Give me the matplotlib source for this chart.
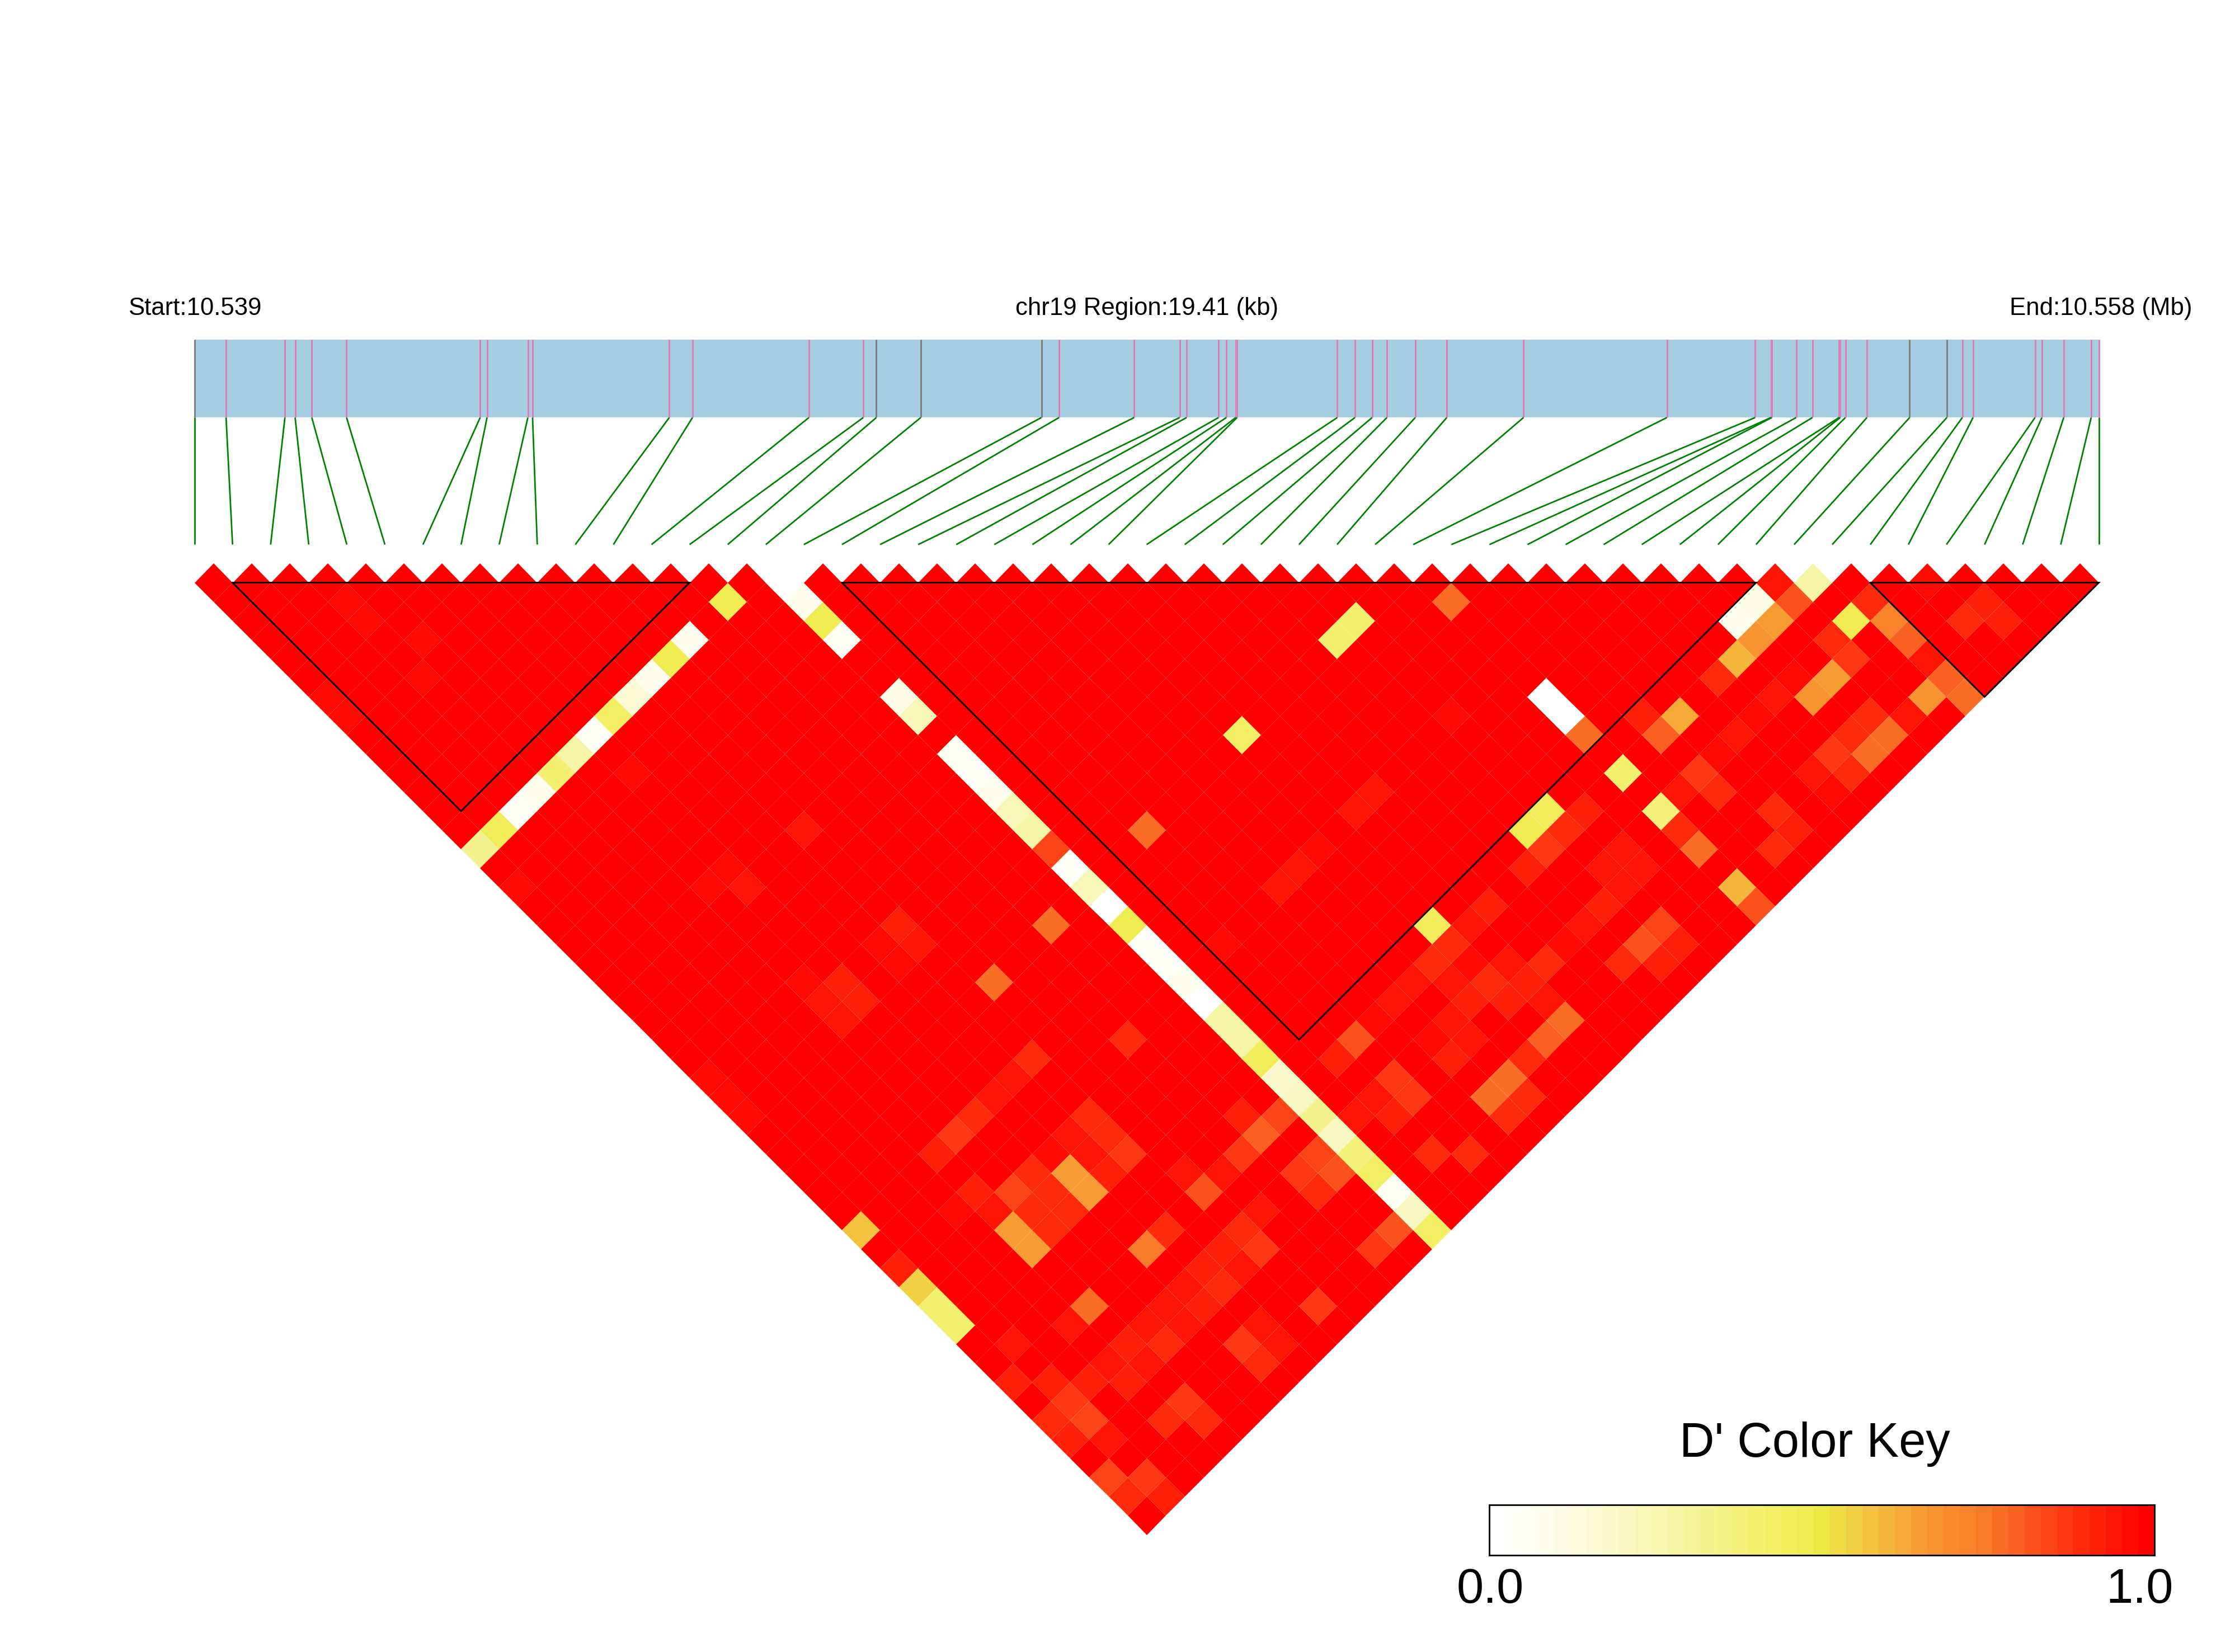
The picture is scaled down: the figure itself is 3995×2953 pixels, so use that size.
import numpy as np
import matplotlib
matplotlib.use("Agg")
import matplotlib.pyplot as plt
from matplotlib.colors import LinearSegmentedColormap
from matplotlib.transforms import Affine2D

plt.rcParams['font.family'] = ['Liberation Sans', 'DejaVu Sans']

# SNP positions on the region, kb from the start
snp_kb = [0.000, 0.322, 0.922, 1.026, 1.196, 1.550, 2.912, 2.982, 3.398, 3.446,
          4.840, 5.076, 6.263, 6.817, 6.950, 7.403, 8.633, 8.812, 9.578, 10.041,
          10.112, 10.438, 10.518, 10.613, 10.627, 11.648, 11.828, 12.003, 12.154, 12.443,
          12.764, 13.546, 15.008, 15.907, 16.068, 16.077, 16.325, 16.491, 16.762, 16.775,
          16.827, 17.046, 17.482, 17.861, 18.019, 18.128, 18.760, 18.830, 19.052, 19.332,
          19.410]
grey_snps = [0, 14, 15, 16, 42, 43]  # the rest are pink
region_kb = 19.41

# LD blocks outlined in black, as first and last SNP
block_start = [1, 17, 44]
block_end = [13, 41, 50]

# D' is 1.0 everywhere except the pairs below: pair_j[k] and pair_d[k] belong to SNP pair_i[k]
pair_i = [0, 1, 2, 3, 4, 5, 6, 7, 8, 9, 10, 11, 12, 13, 14, 15, 16, 17, 18, 19, 20, 21, 22, 23,
          24, 25, 26, 27, 28, 29, 30, 32, 33, 34, 35, 36, 37, 38, 39, 40, 41, 42, 43, 45, 46]
pair_j = [
    [7, 8, 15, 17, 27, 28, 29, 35, 37, 38, 39, 40, 43, 45, 46, 48, 49],
    [15, 42, 44, 45, 46, 47, 49, 50],
    [15, 45],
    [5, 6, 9, 15, 37, 43, 45, 46, 48],
    [8, 15, 17, 35, 37, 38, 39, 40, 43, 45, 46, 48, 49],
    [15, 17, 22, 27, 28, 29, 35, 38, 39, 40, 45, 46],
    [15, 17, 22, 23, 28, 29, 35, 38, 39, 40, 45, 46],
    [15, 35, 38, 39, 40, 43, 45, 46, 48, 49],
    [15, 23, 28, 29, 35, 38, 39, 40, 43, 45, 46, 48, 49],
    [15, 17, 22, 23, 28, 29, 35, 38, 39, 40, 45, 46],
    [15, 32, 42, 43, 45, 46, 49],
    [15, 43, 45],
    [37, 43],
    [15, 32, 42, 43, 45, 46, 49],
    [43, 45, 46, 49],
    [16, 17, 18, 19, 22, 23, 25, 26, 27, 28, 29, 30, 31, 32, 33, 34, 35, 36, 37, 38, 39, 40, 41,
     42, 43, 44, 45, 46, 47, 48, 49, 50],
    [45],
    [37, 43, 45, 46, 48],
    [32, 43, 45, 46, 49],
    [43],
    [37, 43, 45, 46, 48, 49],
    [37, 43, 45, 46, 48, 49],
    [37, 43, 44, 45, 48],
    [32, 37, 42, 43, 44, 45, 46, 48],
    [37, 43, 45, 46, 47, 48],
    [37, 43, 46],
    [46],
    [37, 43, 46, 48],
    [32, 37, 42, 43, 46, 48, 49],
    [32, 37, 42, 43, 45, 46, 47, 48, 49],
    [37, 43, 45, 46, 47],
    [34, 39, 40, 41, 43, 45, 46, 47, 49, 50],
    [45],
    [42, 43, 45, 46, 49],
    [43, 45, 48, 49],
    [45],
    [43, 45, 48, 49],
    [43, 45, 48, 49],
    [42, 43, 45, 46, 48, 49],
    [42, 43, 46, 48, 49],
    [42, 43, 45, 46, 49],
    [43, 45, 49],
    [45, 46, 47, 48, 49, 50],
    [46, 48],
    [48, 49],
]
pair_d = [
    [.97, .97, .33, .97, .97, .96, .97, .57, .92, .55, .40, .40, .92, .88, .92, .84, .89],
    [.44, .93, .92, .87, .83, .93, .86, .92],
    [.05, .92],
    [.97, .97, .97, .09, .96, .93, .94, .92, .90],
    [.97, .40, .98, .92, .92, .94, .65, .65, .77, .92, .93, .87, .90],
    [.28, .98, .96, .97, .93, .93, .86, .85, .88, .88, .93, .90],
    [.06, .97, .97, .94, .92, .92, .88, .89, .90, .88, .95, .93],
    [.42, .95, .97, .65, .65, .75, .93, .91, .86, .89],
    [.15, .98, .97, .96, .93, .94, .93, .92, .88, .92, .88, .93, .93],
    [.08, .98, .98, .94, .92, .93, .88, .88, .88, .87, .92, .93],
    [.47, .78, .95, .82, .90, .87, .87],
    [.08, .93, .93],
    [.90, .87],
    [.48, .77, .92, .79, .87, .88, .87],
    [.83, .85, .81, .81],
    [.02, .09, .47, .07, .10, .22, .07, .04, .08, .22, .27, .83, .03, .24, .02, .47, .04, .03, .09,
     .00, .28, .28, .46, .18, .20, .33, .20, .38, .43, .06, .20, .43],
    [.95],
    [.97, .91, .93, .92, .89],
    [.77, .81, .86, .86, .88],
    [.96],
    [.93, .93, .96, .91, .78, .88],
    [.95, .93, .93, .94, .78, .88],
    [.97, .90, .94, .92, .90],
    [.42, .98, .46, .88, .96, .90, .91, .80],
    [.95, .95, .95, .91, .95, .77],
    [.95, .92, .88],
    [.97],
    [.98, .91, .93, .90],
    [.40, .98, .47, .86, .91, .82, .92],
    [.40, .97, .46, .90, .94, .95, .98, .85, .92],
    [.98, .92, .95, .93, .98],
    [.78, .00, .00, .78, .40, .38, .90, .76, .60, .81],
    [.95],
    [.92, .79, .87, .88, .88],
    [.61, .97, .89, .92],
    [.95],
    [.90, .96, .93, .96],
    [.59, .95, .87, .90],
    [.08, .66, .97, .66, .90, .78],
    [.10, .65, .65, .88, .78],
    [.93, .82, .88, .87, .93],
    [.28, .47, .68],
    [.89, .73, .80, .95, .79, .77],
    [.96, .89],
    [.92, .92],
]

# Colour key stops
key_stops = [0.0, 0.1, 0.25, 0.4, 0.5, 0.55, 0.65, 0.75, 0.85, 0.9, 0.95, 1.0]
key_colors = ["#FFFFFF", "#FDFDE6", "#F7F5B0", "#F3F070", "#EEEA45", "#F2D044",
              "#F69C33", "#F87A28", "#FC4517", "#FE2A0C", "#FF1506", "#FF0000"]
key_cells = 41

n_snps = len(snp_kb)
ld = np.full((n_snps - 1, n_snps - 1), np.nan)
for a in range(n_snps - 1):
    ld[a, a:] = 1.0
for a, partners, values in zip(pair_i, pair_j, pair_d, strict=True):
    for b, v in zip(partners, values, strict=True):
        ld[a, b - 1] = v

cmap = LinearSegmentedColormap.from_list("ld", list(zip(key_stops, key_colors)), N=key_cells)

W, H = 3995, 2953
fig = plt.figure(figsize=(W / 300, H / 300), dpi=300, facecolor="white")

# One axes over the whole figure: x in SNP steps, y in half-steps going down from the first row
x0_px, step_px = 347.6, 68.08
y0_px, row_px = 1041.5, 34.04
ax = fig.add_axes([0, 0, 1, 1])
ax.set_xlim(-x0_px / step_px, (W - x0_px) / step_px)
ax.set_ylim((H - y0_px) / row_px, -y0_px / row_px)
ax.axis("off")

# Rotate the SNP x SNP matrix by 45 degrees into the triangle
rotate = Affine2D.from_values(0.5, -1, 0.5, 1, 0, 0)
u = np.arange(n_snps)
ax.pcolormesh(u, u, np.ma.masked_invalid(ld.T), cmap=cmap, vmin=0, vmax=1,
              transform=rotate + ax.transData, antialiased=True, linewidth=0, zorder=1)

# Black outlines of the blocks
for s, e in zip(block_start, block_end):
    ax.plot([s, e, (s + e) / 2, s], [0, 0, e - s, 0], color="black", lw=0.68,
            solid_joinstyle="miter", zorder=3)

# Physical map bar with a tick for each SNP
bar_top, bar_bottom, link_bottom = -12.75, -8.67, -2.0
snp_x = np.array(snp_kb) / region_kb * (n_snps - 1)
ax.fill_between([0, n_snps - 1], bar_top, bar_bottom, color="#A6CEE3", lw=0, zorder=1)
for k, x in enumerate(snp_x):
    c = "#808080" if k in grey_snps else "#DE7FBC"
    ax.plot([x, x], [bar_top, bar_bottom], color=c, lw=0.72, solid_capstyle="butt", zorder=2)
    ax.plot([x, k], [bar_bottom, link_bottom], color="#008000", lw=0.66,
            solid_capstyle="butt", zorder=2)

label_y = 563 / H
fig.text(348 / W, 1 - label_y, "Start:10.539", ha="center", va="baseline", fontsize=10.5)
fig.text(2050 / W, 1 - label_y, "chr19 Region:19.41 (kb)", ha="center", va="baseline", fontsize=10.5)
fig.text(3755 / W, 1 - label_y, "End:10.558 (Mb)", ha="center", va="baseline", fontsize=10.5)

# Colour key
key_ax = fig.add_axes([2661.6 / W, 1 - 2780 / H, (3851 - 2661.6) / W, 90 / H])
key_ax.pcolormesh(np.linspace(0, 1, key_cells + 1), [0, 1],
                  ((np.arange(key_cells) + 0.5) / key_cells).reshape(1, -1),
                  cmap=cmap, vmin=0, vmax=1, antialiased=True, linewidth=0)
key_ax.set_xticks([])
key_ax.set_yticks([])
for sp in key_ax.spines.values():
    sp.set_linewidth(0.68)

fig.text(3244 / W, 1 - 2604 / H, "D' Color Key", ha="center", va="baseline", fontsize=20.8)
fig.text(2664 / W, 1 - 2865 / H, "0.0", ha="center", va="baseline", fontsize=20.8)
fig.text(3825 / W, 1 - 2865 / H, "1.0", ha="center", va="baseline", fontsize=20.8)

fig.savefig("out.png", dpi=300)
